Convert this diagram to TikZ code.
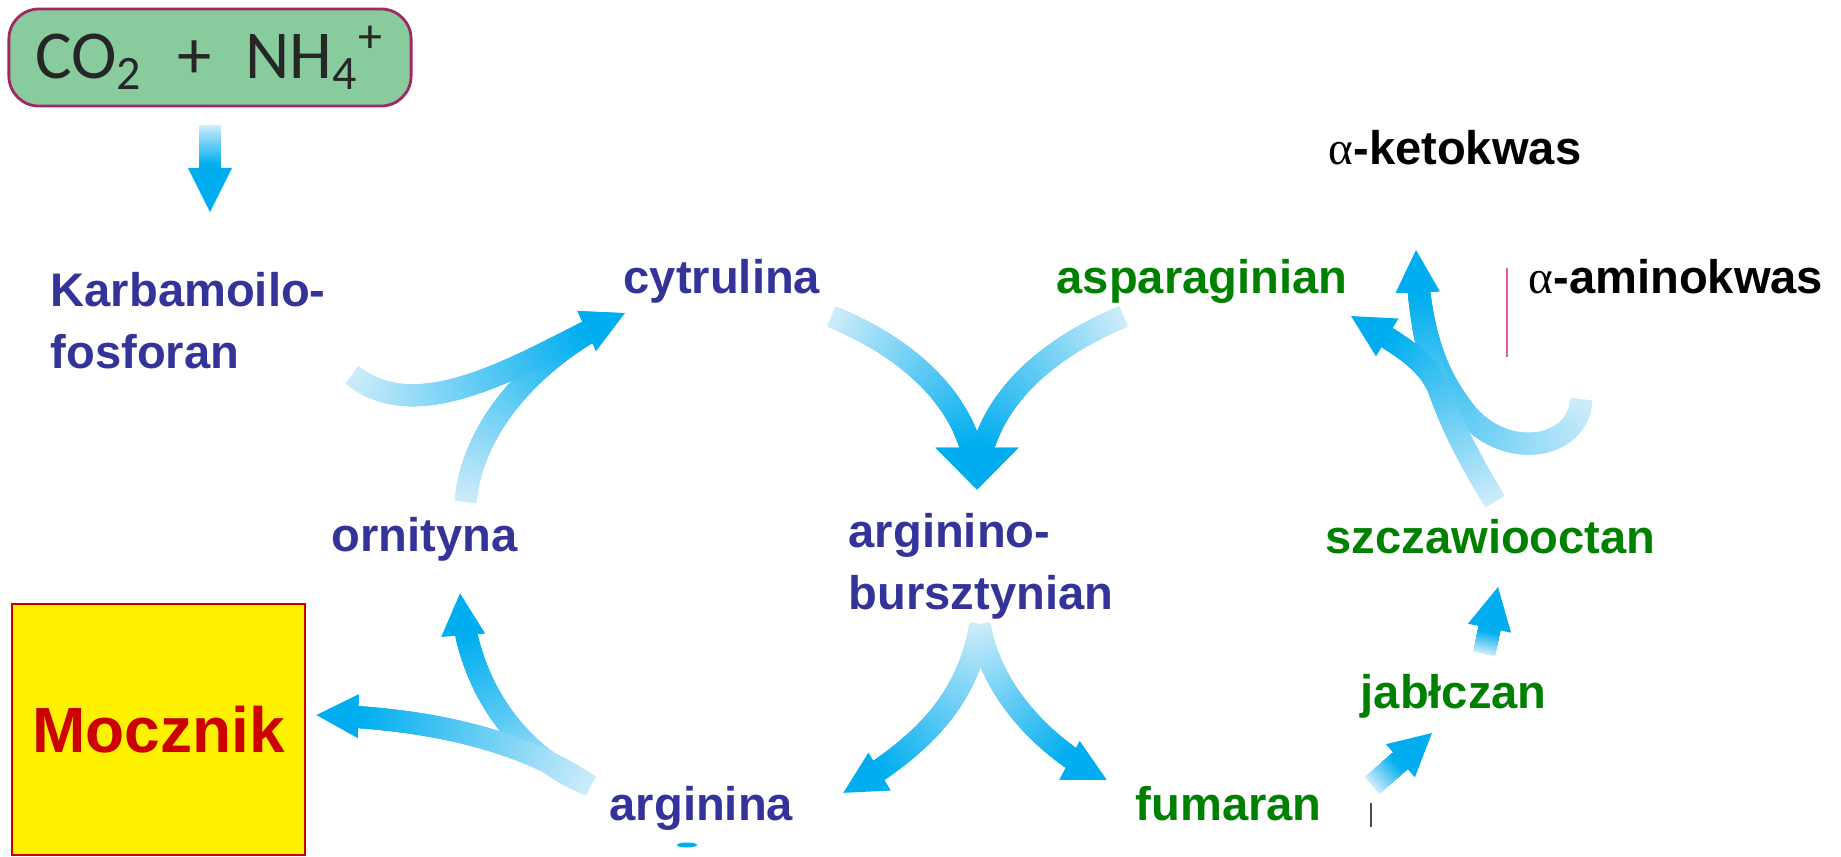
\documentclass[tikz,border=0pt]{standalone}
\usepackage{fontspec}
\setmainfont{Liberation Sans}
\newfontfamily\greekfont{Liberation Serif}
\newfontfamily\boxfont{Carlito}
\usetikzlibrary{decorations.markings}

\definecolor{flowblue}{RGB}{0,174,239}
\definecolor{flowpale}{RGB}{205,236,250}
\definecolor{metblue}{RGB}{51,51,153}
\definecolor{metgreen}{RGB}{0,128,0}
\definecolor{boxgreen}{RGB}{136,204,158}
\definecolor{boxrim}{RGB}{160,40,100}
\definecolor{ureared}{RGB}{204,0,0}
\definecolor{cutpink}{RGB}{230,90,160}

% one slice of a band, paler near the tail
\newcommand\flowslice[1]{%
  \pgfmathsetmacro\flowpct{min(100,100*\pgfkeysvalueof{/pgf/decoration/mark info/distance from start}/(\pgfdecoratedpathlength-#1))}%
  \fill[flowblue!\flowpct!flowpale] (-0.04cm,-0.11cm) rectangle (0.04cm,0.11cm);}

\tikzset{
  flow head/.style 2 args={
    decoration={markings,
      mark=between positions 0 and -#1 step 0.01 with {\flowslice{#1}},
      mark=at position 1 with {\fill[flowblue] (0,0) -- (-#1,#2/2) -- (-#1,-#2/2) -- cycle;}},
    postaction={decorate}},
  flow/.style={flow head={0.42cm}{0.44cm}},
  wide flow/.style={flow head={0.42cm}{0.83cm}},
  met/.style={font=\bfseries\fontsize{13.4}{17.4}\selectfont,inner sep=0pt,anchor=base west},
  two lines/.style={met,align=left,anchor=north west},
}

\begin{document}
\begin{tikzpicture}[x=0.01cm,y=-0.01cm]
  \useasboundingbox (0,0) rectangle (1841,856);

  % substrates and products
  \node[draw=boxrim,line width=0.8pt,fill=boxgreen,rounded corners=0.3cm,
        minimum width=4.02cm,minimum height=0.97cm,text=black!85,
        font=\boxfont\fontsize{19.5}{23}\selectfont] (co2) at (210,57.5)
        {CO\textsubscript{2}\enskip+\enskip NH\textsubscript{4}\textsuperscript{+}};
  \node[draw=ureared,line width=0.6pt,fill=yellow,text=ureared,
        minimum width=2.93cm,minimum height=2.51cm,
        font=\bfseries\fontsize{18.2}{22}\selectfont] (mocz) at (158.5,729.5) {Mocznik};

  \node[two lines,text=metblue] (karb) at (50,272) {Karbamoilo-\\fosforan};
  \node[met,text=metblue] (cytr) at (623,293) {cytrulina};
  \node[met,text=metgreen] (aspa) at (1056,293) {asparaginian};
  \node[met] (keto) at (1328,164) {{\greekfont\mdseries α}-ketokwas};
  \node[met] (amino) at (1528,293) {{\greekfont\mdseries α}-aminokwas};
  \node[met,text=metblue] (orni) at (331,551) {ornityna};
  \node[two lines,text=metblue] (argbur) at (848,513) {arginino-\\bursztynian};
  \node[met,text=metgreen] (szcz) at (1325,553) {szczawiooctan};
  \node[met,text=metgreen] (jabl) at (1360,708) {jabłczan};
  \node[met,text=metblue] (argi) at (609,820) {arginina};
  \node[met,text=metgreen] (fuma) at (1135,820) {fumaran};

  % ends of the arrows
  \coordinate (co2 out) at (210,129);
  \coordinate (karb in) at (210,212);
  \coordinate (karb out) at (355,377);
  \coordinate (orni out) at (466,498);
  \coordinate (cytr in) at (625,313);
  \coordinate (cytr out) at (835,318);
  \coordinate (aspa out) at (1120,318);
  \coordinate (argbur in) at (977,490);
  \coordinate (argbur out) at (980,628);
  \coordinate (argi in) at (843,793);
  \coordinate (fuma in) at (1107,780);
  \coordinate (argi out) at (587,784);
  \coordinate (orni in) at (460,593);
  \coordinate (mocz in) at (316,715);
  \coordinate (fuma out) at (1375,783);
  \coordinate (jabl in) at (1432,733);
  \coordinate (jabl out) at (1485,650);
  \coordinate (szcz in) at (1498,587);
  \coordinate (szcz out) at (1493,498);
  \coordinate (keto in) at (1416,250);
  \coordinate (aspa in) at (1351,316);
  \coordinate (amino out) at (1581,403);

  \path[flow head={0.44cm}{0.44cm}] (co2 out) -- (karb in);

  % cycle
  \path[flow] (orni out) .. controls (474,425) and (535,355) .. (cytr in);
  \path[flow] (karb out) .. controls (425,430) and (535,355) .. (cytr in);
  \path[wide flow] (cytr out) .. controls (900,345) and (977,400) .. (argbur in);
  \path[wide flow] (aspa out) .. controls (1055,345) and (977,400) .. (argbur in);
  \path[flow] (argbur out) .. controls (966,700) and (925,745) .. (argi in);
  \path[flow] (argbur out) .. controls (992,690) and (1040,745) .. (fuma in);
  \path[flow] (argi out) .. controls (530,760) and (468,700) .. (orni in);
  \path[flow] (argi out) .. controls (520,740) and (430,718) .. (mocz in);

  % fumaran back to asparaginian
  \path[flow] (fuma out) -- (jabl in);
  \path[flow] (jabl out) -- (szcz in);
  \path[flow] (amino out) .. controls (1575,450) and (1505,460) .. (1466,413)
    .. controls (1445,385) and (1420,350) .. (keto in);
  \path[flow] (szcz out) .. controls (1445,420) and (1420,360) .. (keto in);
  \path[flow] (szcz out) .. controls (1470,460) and (1452,425) .. (1440,392)
    .. controls (1428,360) and (1400,345) .. (aspa in);

  % cut marks
  \draw[cutpink,line width=0.3pt] (1507,268) -- (1507,357);
  \draw[black!70,line width=0.4pt] (1371,803) -- (1371,827);
  \fill[flowblue] (687,845) ellipse (10 and 2.5);
\end{tikzpicture}
\end{document}
